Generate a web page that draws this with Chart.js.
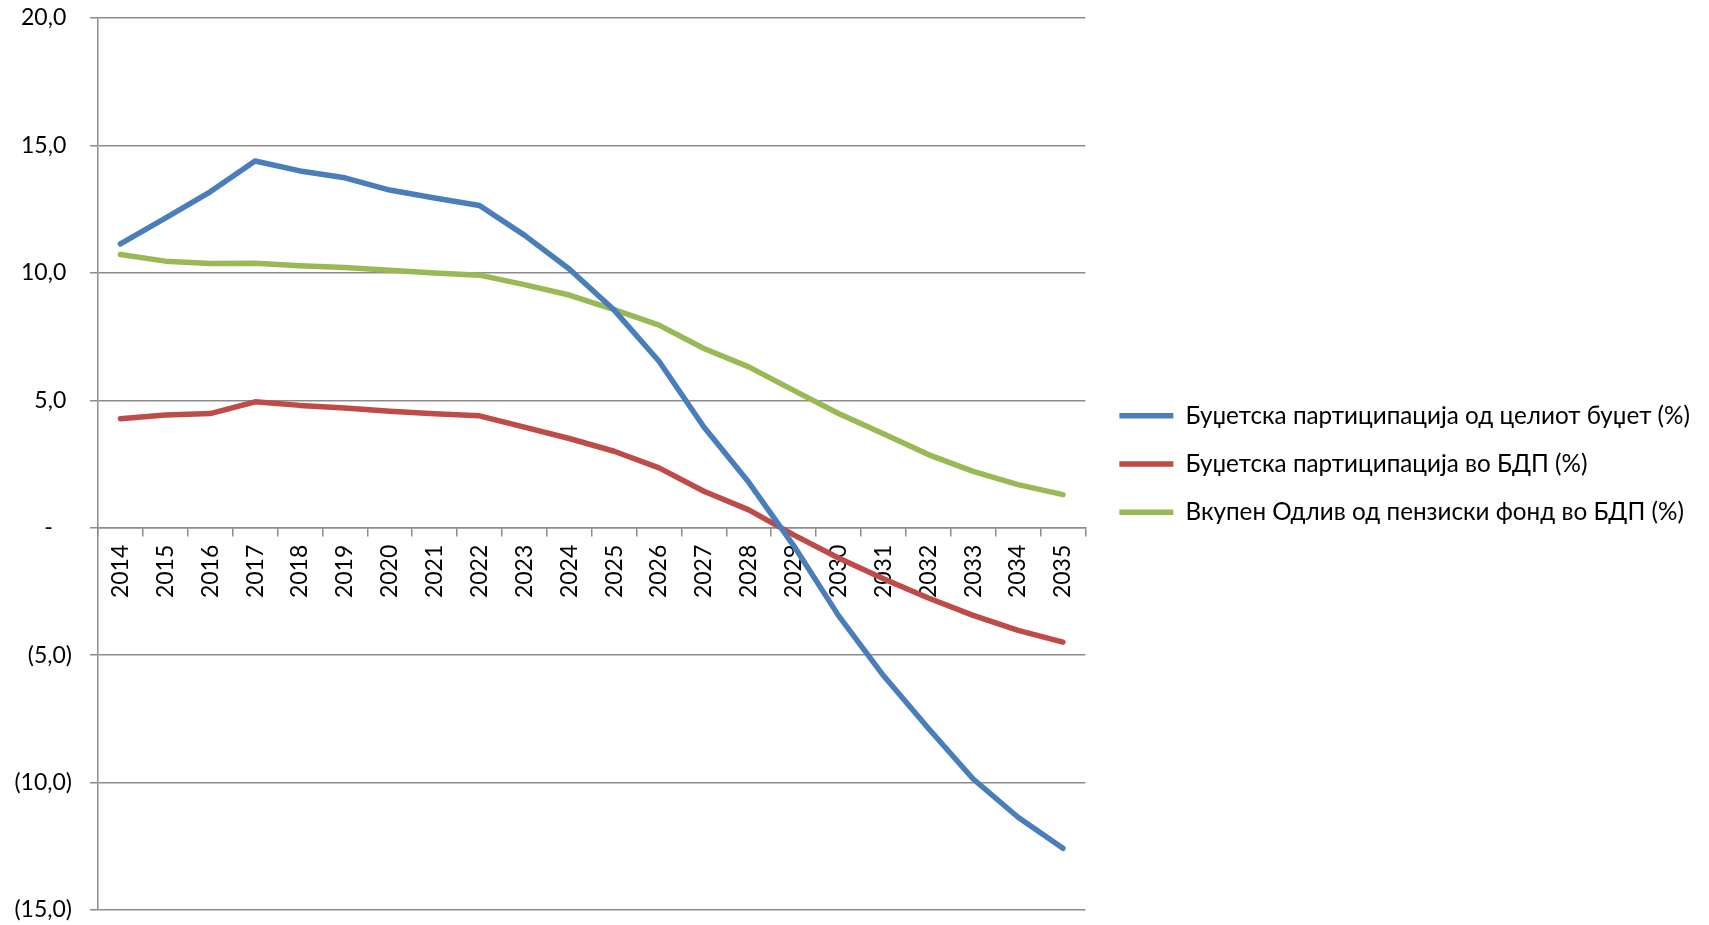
<!DOCTYPE html>
<html lang="mk">
<head>
<meta charset="utf-8">
<title>Буџетска партиципација</title>
<script src="https://cdn.jsdelivr.net/npm/chart.js@4.4.1/dist/chart.umd.min.js"></script>
<style>
  html, body { margin: 0; padding: 0; background: #ffffff; }
  #wrap { width: 1709px; height: 925px; }
</style>
</head>
<body>
<div id="wrap"><canvas id="chart" width="1709" height="925"></canvas></div>
<script>
// Years on the horizontal axis
const years = ['2014','2015','2016','2017','2018','2019','2020','2021','2022','2023','2024',
               '2025','2026','2027','2028','2029','2030','2031','2032','2033','2034','2035'];

// Budget participation as a share of the whole budget (%)
const budgetShare = [11.14, 12.15, 13.18, 14.39, 14.00, 13.73, 13.25, 12.94, 12.64, 11.48, 10.15,
                     8.54, 6.53, 3.95, 1.78, -0.70, -3.45, -5.80, -7.87, -9.86, -11.36, -12.58];

// Budget participation as a share of GDP (%)
const budgetGdp = [4.28, 4.42, 4.48, 4.94, 4.80, 4.70, 4.57, 4.47, 4.39, 3.95, 3.50,
                   3.00, 2.35, 1.43, 0.70, -0.28, -1.19, -2.00, -2.76, -3.44, -4.03, -4.49];

// Total pension fund outflow as a share of GDP (%)
const outflowGdp = [10.72, 10.46, 10.37, 10.38, 10.28, 10.21, 10.10, 9.99, 9.91, 9.54, 9.13,
                    8.56, 7.95, 7.03, 6.31, 5.39, 4.48, 3.69, 2.87, 2.21, 1.69, 1.30];

const seriesNames = [
  'Буџетска партиципација од целиот буџет (%)',
  'Буџетска партиципација во БДП (%)',
  'Вкупен Одлив од пензиски фонд во БДП (%)'
];

// Value axis ticks and their accounting-style labels
const yTickValues = [-15, -10, -5, 0, 5, 10, 15, 20];
const yTickLabels = ['(15,0)', '(10,0)', '(5,0)', '-', '5,0', '10,0', '15,0', '20,0'];

const FONT = "Lato, 'Open Sans', sans-serif";
const FONT_SIZE = 23;
const LEGEND_FONT_SIZE = 24.25;
const GRID = '#8c8c8c';

function lineSet(label, data, color) {
  return {
    label, data,
    borderColor: color,
    backgroundColor: color,
    borderWidth: 5.5,
    borderCapStyle: 'round',
    borderJoinStyle: 'round',
    pointRadius: 0,
    pointHoverRadius: 0,
    tension: 0,
    fill: false
  };
}

new Chart(document.getElementById('chart'), {
  type: 'line',
  data: {
    labels: years,
    datasets: [
      lineSet(seriesNames[0], budgetShare, '#4a7ebb'),
      lineSet(seriesNames[1], budgetGdp, '#be4b48'),
      lineSet(seriesNames[2], outflowGdp, '#98b954')
    ]
  },
  options: {
    responsive: false,
    animation: false,
    layout: { padding: { left: 10, top: 18, bottom: 15, right: 9 } },
    plugins: {
      tooltip: { enabled: false },
      legend: {
        position: 'right',
        align: 'center',
        maxWidth: 800,
        labels: {
          usePointStyle: true,
          pointStyle: 'line',
          pointStyleWidth: 54,
          padding: 24,
          color: '#000000',
          font: { family: FONT, size: LEGEND_FONT_SIZE }
        }
      }
    },
    scales: {
      x: {
        type: 'category',
        position: { y: 0 },
        offset: true,
        grid: {
          offset: true,
          drawOnChartArea: false,
          drawTicks: true,
          tickLength: 8,
          color: GRID,
          lineWidth: 1.5
        },
        border: { display: true, color: GRID, width: 1.5 },
        ticks: {
          minRotation: 90,
          maxRotation: 90,
          autoSkip: false,
          padding: 9,
          color: '#000000',
          font: { family: FONT, size: FONT_SIZE }
        }
      },
      y: {
        type: 'linear',
        position: 'left',
        min: -15,
        max: 20,
        afterBuildTicks(scale) {
          scale.ticks = yTickValues.map(v => ({ value: v }));
        },
        afterFit(scale) {
          scale.width = 88;
          scale.paddingTop = 0;
          scale.paddingBottom = 0;
        },
        grid: {
          color: GRID,
          lineWidth: 1.5,
          tickLength: 8
        },
        border: { display: true, color: GRID, width: 1.5 },
        ticks: {
          padding: 18,
          color: '#000000',
          font: { family: FONT, size: FONT_SIZE },
          callback(value) {
            const i = yTickValues.indexOf(value);
            const text = i >= 0 ? yTickLabels[i] : '';
            if (value > 0) return text + '\u2005';
            if (value === 0) return text + '\u2002\u2004';
            return text;
          }
        }
      },
      gap: {
        type: 'linear',
        position: 'right',
        display: true,
        grid: { display: false },
        border: { display: false },
        ticks: { display: false },
        afterFit(scale) { scale.width = 10; }
      }
    }
  }
});
</script>
</body>
</html>
